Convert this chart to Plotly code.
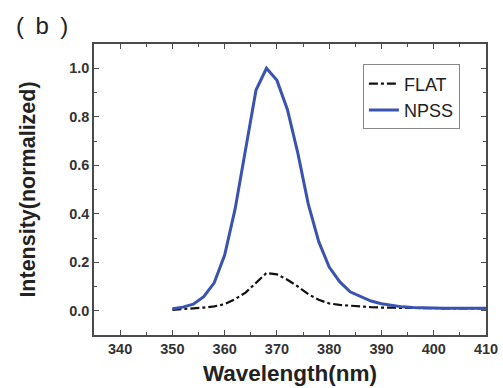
import plotly.graph_objects as go

wavelength = [350, 352, 354, 356, 358, 360, 362, 364, 366, 368, 370, 372, 374, 376, 378, 380,
              382, 384, 386, 388, 390, 392, 394, 396, 398, 400, 402, 404, 406, 408, 410]
npss = [0.008, 0.015, 0.027, 0.058, 0.115, 0.23, 0.42, 0.67, 0.91, 1.00, 0.95, 0.83, 0.65, 0.44,
        0.285, 0.18, 0.12, 0.078, 0.058, 0.04, 0.029, 0.021, 0.016, 0.013, 0.011, 0.010,
        0.010, 0.010, 0.010, 0.010, 0.010]
flat = [0.004, 0.006, 0.009, 0.013, 0.018, 0.027, 0.048, 0.075, 0.115, 0.156, 0.15, 0.128,
        0.10, 0.068, 0.045, 0.03, 0.024, 0.02, 0.017, 0.015, 0.013, 0.012, 0.011, 0.011,
        0.010, 0.010, 0.010, 0.010, 0.010, 0.010, 0.010]

x_ticks = [340, 350, 360, 370, 380, 390, 400, 410]
y_ticks = [0.0, 0.2, 0.4, 0.6, 0.8, 1.0]

fig = go.Figure()
fig.add_trace(go.Scatter(x=wavelength, y=flat, mode="lines", name="FLAT",
                         line=dict(color="#111111", width=2.2, dash="dashdot")))
fig.add_trace(go.Scatter(x=wavelength, y=npss, mode="lines", name="NPSS",
                         line=dict(color="#3a52b0", width=3)))

axis_common = dict(showline=True, linecolor="#4a4a4a", linewidth=1.5, mirror="ticks",
                   ticks="inside", ticklen=5, tickwidth=1.2, tickcolor="#4a4a4a",
                   showgrid=False, zeroline=False, automargin=False,
                   tickfont=dict(family="Liberation Sans", size=14.5, color="#333333",
                                 weight="bold"))

fig.update_layout(
    width=503, height=388,
    margin=dict(l=94, r=17, t=44, b=53),
    paper_bgcolor="white", plot_bgcolor="white",
    font=dict(family="Liberation Sans", color="#222222"),
    xaxis=dict(range=[335, 410], tickvals=x_ticks,
               minor=dict(ticks="inside", ticklen=3, tickcolor="#4a4a4a", dtick=5, tick0=335),
               title=dict(text="Wavelength(nm)", standoff=9,
                          font=dict(family="Liberation Sans", size=22.5, color="#222222",
                                    weight="bold")),
               **axis_common),
    yaxis=dict(range=[-0.1, 1.1], tickvals=y_ticks, tickformat=".1f",
               minor=dict(ticks="inside", ticklen=3, tickcolor="#4a4a4a", dtick=0.1, tick0=0.1),
               title=dict(text="Intensity(normalized)", standoff=28,
                          font=dict(family="Liberation Sans", size=21.5, color="#222222",
                                    weight="bold")),
               **axis_common),
    legend=dict(x=0.686, y=0.93, xanchor="left", yanchor="top",
                bordercolor="#888888", borderwidth=1, bgcolor="rgba(255,255,255,0)",
                font=dict(family="Liberation Sans", size=18, color="#222222"),
                itemwidth=30, tracegroupgap=0),
    showlegend=True,
)

fig.add_annotation(text="( \u2009b \u2009)", xref="paper", yref="paper", x=-0.205, y=1.065,
                   xanchor="left", yanchor="middle", showarrow=False,
                   font=dict(family="Liberation Sans", size=24, color="#222222"))

fig.write_html("out.html", config={"displayModeBar": False},
               post_script="document.body.style.margin='0px';document.body.style.overflow='hidden';")
